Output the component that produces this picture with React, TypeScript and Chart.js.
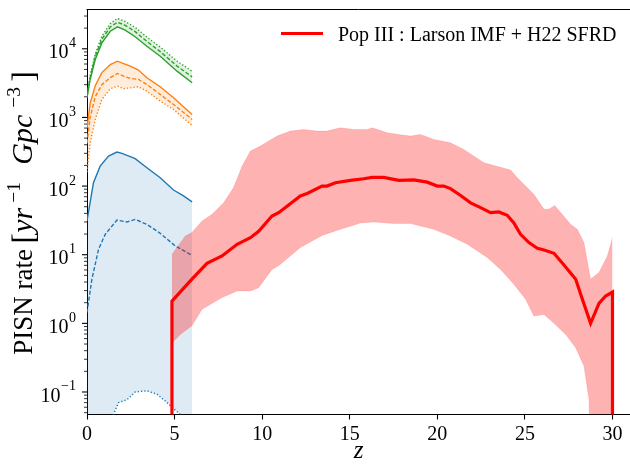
import React, { useEffect, useRef } from 'react';
import { Chart, registerables } from 'chart.js';

Chart.register(...registerables);

const SERIF = '"Liberation Serif", "Times New Roman", Times, serif';

// ---------- Pop III (red) ----------
const popIIIz = [4.85, 4.85, 5.99, 6.85, 7.71, 8.57, 9.33, 9.8, 10.56, 10.94, 11.42, 12.18, 12.57, 13.42, 13.7, 14.18, 15.04, 15.8, 16.28, 16.94, 17.8, 18.66, 19.42, 20.0, 20.37, 20.75, 21.33, 21.9, 22.47, 23.04, 23.51, 23.99, 24.37, 24.75, 25.23, 25.71, 26.09, 26.66, 27.23, 27.9, 28.28, 28.75, 29.23, 29.61, 30, 30];
const popIIIrate = [0.001, 2.1, 4.4, 7.5, 9.6, 14.2, 17.7, 22, 36.6, 41, 51, 72, 78, 100, 100, 112, 121, 128, 134, 134, 121, 123, 114, 100, 100, 92, 73, 57, 48.5, 41, 42, 37.5, 29, 19.8, 15, 12.4, 11.7, 10.5, 7.1, 4.4, 2.24, 1.0, 1.96, 2.5, 2.86, 0.001];

const popIIIupperZ = [4.85, 5.61, 5.99, 6.57, 7.14, 7.8, 8.37, 8.85, 9.33, 9.9, 10.37, 10.85, 11.61, 12.37, 13.14, 13.7, 14.47, 15.23, 16.0, 16.28, 17.14, 17.9, 18.47, 19.04, 19.8, 20.75, 21.51, 22.66, 24.18, 24.57, 25.51, 26.09, 26.37, 26.7, 27.61, 27.99, 28.37, 28.75, 29.23, 29.71, 30.0];
const popIIIupper = [10.1, 18.7, 21, 31, 38.7, 57, 95, 195, 323, 382, 452, 535, 632, 668, 632, 632, 708, 668, 668, 708, 598, 560, 535, 566, 478, 428, 342, 219, 171, 132, 76, 46, 46, 52, 27.7, 23.4, 15, 4.4, 5.5, 9.6, 17.7];

const popIIIlowerZ = [4.85, 5.33, 5.99, 6.57, 7.71, 8.57, 9.33, 9.8, 10.56, 10.94, 12.18, 13.42, 14.47, 15.61, 16.37, 17.51, 18.47, 19.8, 20.75, 21.71, 22.85, 23.61, 24.37, 25.04, 25.51, 26.09, 26.66, 27.33, 27.9, 28.37, 28.66, 28.8, 30];
const popIIIlower = [0.52, 0.69, 0.92, 1.6, 2.38, 2.97, 2.97, 3.3, 6.1, 6.9, 12.7, 19.1, 23.4, 29, 30, 28.4, 28.4, 23.4, 18.7, 14.2, 9.1, 6.1, 3.7, 2.24, 1.28, 1.35, 1.0, 0.69, 0.44, 0.24, 0.078, 0.001, 0.001];

// ---------- blue ----------
const blueSolidZ = [0, 0.37, 0.75, 1.23, 1.71, 1.99, 2.47, 2.75, 3.42, 4.18, 4.94, 5.51, 6.0];
const blueSolid = [31, 112, 195, 274, 313, 299, 268, 251, 185, 132, 87.5, 72, 59];
const blueDashedZ = [0, 0.28, 0.66, 1.04, 1.71, 2.28, 2.75, 3.42, 4.18, 5.04, 6.0];
const blueDashed = [1.44, 4.4, 12, 19.8, 32, 30, 32.7, 27.7, 20.5, 13.4, 9.8];
const blueDottedZ = [0, 0.8, 1.3, 1.51, 1.8, 2.28, 2.75, 3.42, 3.99, 4.47, 4.85, 5.33, 5.6, 6.0];
const blueDotted = [0.0001, 0.005, 0.03, 0.047, 0.07, 0.077, 0.1, 0.104, 0.093, 0.074, 0.06, 0.047, 0.03, 0.01];

// ---------- orange ----------
const orangeZ = [0, 0.18, 0.47, 0.85, 1.33, 1.74, 2.09, 2.47, 2.94, 3.42, 4.18, 4.94, 6.0];
const orangeSolid = [700, 1600, 2900, 4500, 5900, 6600, 6100, 5580, 4900, 3780, 2800, 1940, 1106];
const orangeDashed = [420, 1000, 2000, 3000, 3800, 4370, 3990, 3700, 3580, 3020, 2160, 1545, 935];
const orangeDotted = [160, 428, 935, 1830, 2620, 2860, 2620, 2700, 2800, 2415, 1730, 1306, 765];

// ---------- green ----------
const greenZ = [0, 0.18, 0.47, 0.85, 1.33, 1.74, 2.18, 2.75, 3.42, 4.18, 5.14, 6.0];
const greenSolid = [1940, 3570, 6980, 12200, 18000, 20900, 18700, 15000, 10900, 7800, 4720, 3200];
const greenDashed = [2000, 3800, 7700, 13800, 20800, 24400, 22000, 17800, 12800, 9100, 5600, 3900];
const greenDotted = [2100, 4100, 8400, 15300, 23300, 27600, 25000, 20500, 14800, 10600, 6600, 4720];

// ---------- axes ----------
const xTicks = [0, 5, 10, 15, 20, 25, 30];
const xMin = 0;
const xMax = 31;
const yMin = 0.047;
const yMax = 38000;
const yDecades = [-1, 0, 1, 2, 3, 4];
const legendLabel = 'Pop III : Larson IMF + H22 SFRD';

const BLUE = '#1f77b4';
const ORANGE = '#ff7f0e';
const GREEN = '#2ca02c';
const RED = '#ff0000';

const pts = (xs: number[], ys: number[]) => xs.map((x, i) => ({ x, y: ys[i] }));

const base = { pointRadius: 0, pointHoverRadius: 0, tension: 0, clip: 0 as any };

const framePlugin = {
  id: 'frame',
  afterDraw(chart: any) {
    const { ctx, chartArea: a, scales } = chart;
    const y = scales.y;
    ctx.save();
    ctx.strokeStyle = '#000';
    ctx.fillStyle = '#000';
    // top spine
    ctx.lineWidth = 1;
    const ty = Math.round(a.top) + 0.5;
    ctx.beginPath();
    ctx.moveTo(a.left - 0.5, ty);
    ctx.lineTo(a.right, ty);
    ctx.stroke();

    // y ticks (major + minor)
    for (let p = -3; p <= 5; p++) {
      for (let m = 1; m <= 9; m++) {
        const v = m * Math.pow(10, p);
        if (v < y.min || v > y.max) continue;
        const py = y.getPixelForValue(v);
        const major = m === 1;
        ctx.lineWidth = major ? 1.1 : 0.8;
        ctx.beginPath();
        ctx.moveTo(a.left - (major ? 5 : 3), py);
        ctx.lineTo(a.left, py);
        ctx.stroke();
      }
    }
    // y tick labels 10^n
    const rightEdge = a.left - 11;
    yDecades.forEach((p) => {
      const py = y.getPixelForValue(Math.pow(10, p));
      const exp = p < 0 ? '\u2212' + String(-p) : String(p);
      ctx.font = `14px ${SERIF}`;
      ctx.textAlign = 'left';
      ctx.textBaseline = 'alphabetic';
      const ew = ctx.measureText(exp).width;
      const ex = rightEdge - ew;
      ctx.fillText(exp, ex, py - 1.5);
      ctx.font = `20px ${SERIF}`;
      ctx.textAlign = 'right';
      ctx.fillText('10', ex - 0.5, py + 9.6);
    });

    // y axis title: parts placed along the rotated baseline
    const fs = 27;
    const parts = [
      { t: 'PISN rate', f: `${fs}px ${SERIF}`, at: 0, dy: 0 },
      { t: '[', f: `${fs * 1.2}px ${SERIF}`, at: 111, dy: 1.5 },
      { t: 'yr', f: `italic ${fs + 3}px ${SERIF}`, at: 122, dy: 0 },
      { t: '\u22121', f: `${fs * 0.72}px ${SERIF}`, at: 152, dy: -fs * 0.45 },
      { t: 'Gpc', f: `italic ${fs + 3}px ${SERIF}`, at: 190, dy: 0 },
      { t: '\u22123', f: `${fs * 0.72}px ${SERIF}`, at: 247, dy: -fs * 0.45 },
      { t: ']', f: `${fs * 1.2}px ${SERIF}`, at: 273, dy: 1.5 },
    ];
    const total = 286;
    ctx.save();
    ctx.translate(32, (a.top + a.bottom) / 2);
    ctx.rotate(-Math.PI / 2);
    ctx.textAlign = 'left';
    ctx.textBaseline = 'alphabetic';
    parts.forEach((pt) => {
      ctx.font = pt.f;
      ctx.fillText(pt.t, -total / 2 + pt.at, pt.dy);
    });
    ctx.restore();

    // x axis title
    ctx.font = `italic 25px ${SERIF}`;
    ctx.textAlign = 'center';
    ctx.textBaseline = 'alphabetic';
    ctx.fillText('z', (a.left + a.right) / 2, 458);

    // legend
    const lx = a.right - 349;
    ctx.strokeStyle = RED;
    ctx.lineWidth = 3.2;
    ctx.beginPath();
    ctx.moveTo(lx, 33.5);
    ctx.lineTo(lx + 42, 33.5);
    ctx.stroke();
    ctx.font = `20px ${SERIF}`;
    ctx.textAlign = 'left';
    ctx.fillStyle = '#000';
    ctx.fillText(chart.data.datasets[0].label, lx + 57, 40.5);
    ctx.restore();
  },
};

export default function App() {
  const ref = useRef<HTMLCanvasElement | null>(null);
  useEffect(() => {
    if (!ref.current) return;
    const chart = new Chart(ref.current, {
      type: 'line',
      data: {
        datasets: [
          { ...base, label: legendLabel, data: pts(popIIIz, popIIIrate), borderColor: RED, borderWidth: 3.2, fill: false },
          { ...base, label: 'upper', data: pts(popIIIupperZ, popIIIupper), borderColor: 'rgba(255,0,0,0.12)', borderWidth: 1, backgroundColor: 'rgba(255,0,0,0.3)', fill: '+1' },
          { ...base, label: 'lower', data: pts(popIIIlowerZ, popIIIlower), borderColor: 'rgba(255,0,0,0.12)', borderWidth: 1, fill: false },
          { ...base, label: 'blue', data: pts(blueSolidZ, blueSolid), borderColor: BLUE, borderWidth: 1.4, backgroundColor: 'rgba(31,119,180,0.15)', fill: '+2' },
          { ...base, label: 'blue dashed', data: pts(blueDashedZ, blueDashed), borderColor: BLUE, borderWidth: 1.4, borderDash: [4, 2], fill: false },
          { ...base, label: 'blue dotted', data: pts(blueDottedZ, blueDotted), borderColor: BLUE, borderWidth: 1.4, borderDash: [1.3, 2], fill: false },
          { ...base, label: 'orange', data: pts(orangeZ, orangeSolid), borderColor: ORANGE, borderWidth: 1.4, backgroundColor: 'rgba(255,127,14,0.15)', fill: '+2' },
          { ...base, label: 'orange dashed', data: pts(orangeZ, orangeDashed), borderColor: ORANGE, borderWidth: 1.4, borderDash: [4, 2], fill: false },
          { ...base, label: 'orange dotted', data: pts(orangeZ, orangeDotted), borderColor: ORANGE, borderWidth: 1.4, borderDash: [1.3, 2], fill: false },
          { ...base, label: 'green dotted', data: pts(greenZ, greenDotted), borderColor: GREEN, borderWidth: 1.4, borderDash: [1.3, 2], backgroundColor: 'rgba(44,160,44,0.15)', fill: '+2' },
          { ...base, label: 'green dashed', data: pts(greenZ, greenDashed), borderColor: GREEN, borderWidth: 1.4, borderDash: [4, 2], fill: false },
          { ...base, label: 'green', data: pts(greenZ, greenSolid), borderColor: GREEN, borderWidth: 1.4, fill: false },
        ],
      },
      options: {
        animation: false,
        responsive: false,
        devicePixelRatio: 1,
        events: [],
        layout: { padding: { top: 9, right: 0, bottom: 0, left: 0 } },
        plugins: { legend: { display: false }, tooltip: { enabled: false } },
        scales: {
          x: {
            type: 'linear',
            min: xMin,
            max: xMax,
            grid: { display: true, drawOnChartArea: false, drawTicks: true, tickLength: 5, tickColor: '#000', tickWidth: 1.1 },
            border: { display: true, color: '#000', width: 1 },
            afterBuildTicks: (s: any) => { s.ticks = xTicks.map((v) => ({ value: v })); },
            ticks: { font: { family: SERIF, size: 20 }, color: '#000', padding: 3, maxRotation: 0, autoSkip: false, callback: (v: any) => String(v) },
            afterFit: (s: any) => { s.height = 51.5; },
          },
          y: {
            type: 'logarithmic',
            min: yMin,
            max: yMax,
            grid: { display: false },
            border: { display: true, color: '#000', width: 1 },
            ticks: { display: false },
            afterFit: (s: any) => { s.width = 87; },
          },
        },
      } as any,
      plugins: [framePlugin],
    });
    return () => chart.destroy();
  }, []);
  return (
    <div style={{ position: 'absolute', left: 0, top: 0, width: 630, height: 466, background: '#fff' }}>
      <canvas ref={ref} width={630} height={466} style={{ display: 'block' }} />
    </div>
  );
}
